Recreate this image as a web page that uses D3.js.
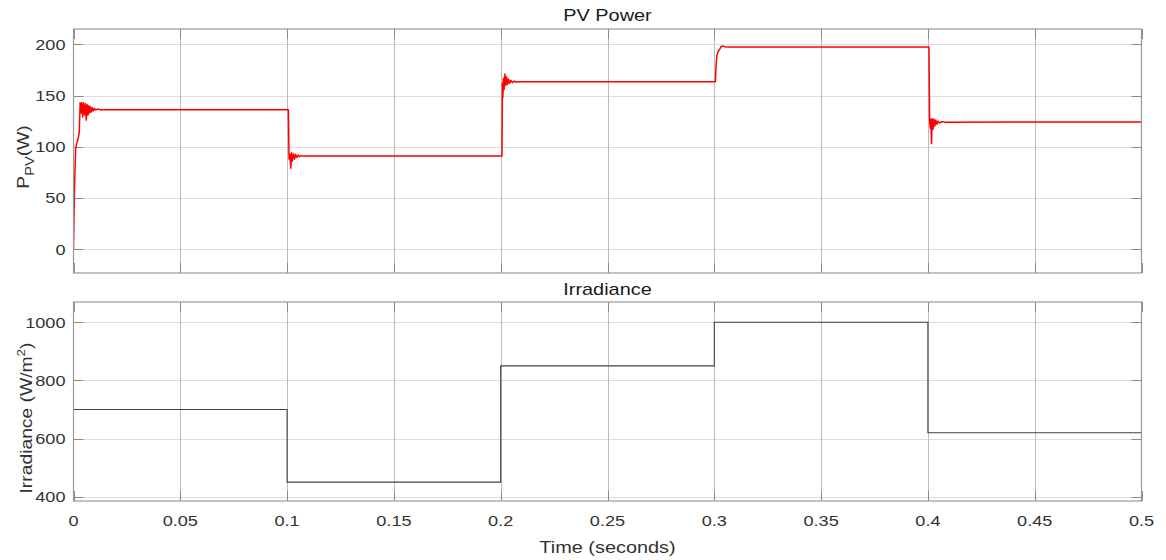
<!DOCTYPE html>
<html>
<head>
<meta charset="utf-8">
<script src="https://cdn.jsdelivr.net/npm/d3@7"></script>
<style>
  html, body { margin: 0; padding: 0; background: #fff; }
  svg { display: block; font-family: "Liberation Sans", Arial, sans-serif; }
</style>
</head>
<body>
<svg id="chart" width="1166" height="560"></svg>
<script>
// PV output power (W) sampled around each irradiance step
const pvTime = [
  0, 0.0004, 0.0010, 0.0015, 0.0022, 0.0027, 0.0031, 0.0036, 0.0039, 0.0043,
  0.0047, 0.0052, 0.0056, 0.0060, 0.0064, 0.0068, 0.0072, 0.0076, 0.0080, 0.0084,
  0.0088, 0.0093, 0.0098, 0.0104, 0.0112, 0.0125, 0.1006,
  0.1009, 0.1013, 0.1017, 0.1021, 0.1025, 0.1030, 0.1035, 0.1040, 0.1046,
  0.1052, 0.1058, 0.1066, 0.1078, 0.1090, 0.2006,
  0.2008, 0.2010, 0.2013, 0.2016, 0.2020, 0.2024, 0.2028, 0.2032, 0.2037,
  0.2042, 0.2048, 0.2055, 0.2063, 0.2075, 0.2090, 0.3005,
  0.3008, 0.3012, 0.3018, 0.3025, 0.3032, 0.3040, 0.3050, 0.3065, 0.4005,
  0.4008, 0.4011, 0.4014, 0.4017, 0.4020, 0.4024, 0.4028, 0.4032, 0.4037,
  0.4042, 0.4048, 0.4055, 0.4065, 0.4080, 0.5
];
const pvPower = [
  0, 55, 98, 103, 108, 114, 143, 133, 143, 129,
  143, 131, 142, 126, 141, 131, 140, 133, 139, 134,
  138, 135, 137.5, 135.8, 136.8, 136.2, 136.2,
  88, 93, 79, 94, 86, 93, 88, 92.5, 89.5,
  91.8, 90.2, 91.3, 90.7, 91, 91,
  162, 148, 167, 156, 171, 160, 168, 161, 166,
  162, 164.8, 162.6, 164, 163.2, 163.5, 163.5,
  178, 189, 193, 195, 198, 198.3, 197.6, 197.4, 197.4,
  125, 118, 127, 103, 127, 117, 127, 120, 126,
  122, 125, 123.2, 124.6, 124, 124.2
];

// Irradiance profile (W/m^2), held constant after each change time
const irrTime = [0, 0.1, 0.2, 0.3, 0.4, 0.5];
const irrValue = [700, 450, 850, 1000, 620, 620];

// Tick values
const timeTicks = [0, 0.05, 0.1, 0.15, 0.2, 0.25, 0.3, 0.35, 0.4, 0.45, 0.5];
const timeTickLabels = ["0", "0.05", "0.1", "0.15", "0.2", "0.25", "0.3", "0.35", "0.4", "0.45", "0.5"];
const powerTicks = [0, 50, 100, 150, 200];
const irrTicks = [400, 600, 800, 1000];

const svg = d3.select("#chart");
const left = 73.5, right = 1141.5;
const topPanel = { y0: 29, y1: 273 };
const botPanel = { y0: 302, y1: 501 };

const x = d3.scaleLinear().domain([0, 0.5]).range([left, right]);
const yP = d3.scaleLinear().domain([-23.4, 215]).range([topPanel.y1, topPanel.y0]);
const yI = d3.scaleLinear().domain([385.2, 1069.8]).range([botPanel.y1, botPanel.y0]);

const boxColor = "#9a9a9a";
const hGrid = "#dcdcdc";
const vGrid = "#bcbcbc";
const tickColor = "#8a8a8a";
const labelColor = "#333333";
const tickLen = 10;
const wide = 1.17; // glyphs are drawn a little wider than the base face

// text placed at (px, py), optionally rotated, widened along its own baseline
function label(px, py, str, size, anchor, rot, fill) {
  return svg.append("text")
    .attr("transform", `translate(${px},${py})${rot ? ` rotate(${rot})` : ""} scale(${wide},1)`)
    .attr("text-anchor", anchor)
    .attr("font-size", size)
    .attr("fill", fill || labelColor)
    .text(str);
}

function panel(p, y, yTicks) {
  const g = svg.append("g");
  // horizontal grid
  g.selectAll(".hg").data(yTicks).join("line")
    .attr("x1", left).attr("x2", right)
    .attr("y1", d => Math.round(y(d)) + 0.5).attr("y2", d => Math.round(y(d)) + 0.5)
    .attr("stroke", hGrid).attr("stroke-width", 1);
  // vertical grid
  g.selectAll(".vg").data(timeTicks.slice(1, -1)).join("line")
    .attr("x1", d => Math.round(x(d)) + 0.5).attr("x2", d => Math.round(x(d)) + 0.5)
    .attr("y1", p.y0).attr("y2", p.y1)
    .attr("stroke", vGrid).attr("stroke-width", 1);
  // inward tick marks on all four sides
  g.selectAll(".tl").data(yTicks).join("line")
    .attr("x1", left).attr("x2", left + tickLen)
    .attr("y1", d => Math.round(y(d)) + 0.5).attr("y2", d => Math.round(y(d)) + 0.5)
    .attr("stroke", tickColor);
  g.selectAll(".tr").data(yTicks).join("line")
    .attr("x1", right - tickLen).attr("x2", right)
    .attr("y1", d => Math.round(y(d)) + 0.5).attr("y2", d => Math.round(y(d)) + 0.5)
    .attr("stroke", tickColor);
  g.selectAll(".tb").data(timeTicks).join("line")
    .attr("x1", d => Math.round(x(d)) + 0.5).attr("x2", d => Math.round(x(d)) + 0.5)
    .attr("y1", p.y1 - tickLen).attr("y2", p.y1)
    .attr("stroke", tickColor);
  g.selectAll(".tt").data(timeTicks).join("line")
    .attr("x1", d => Math.round(x(d)) + 0.5).attr("x2", d => Math.round(x(d)) + 0.5)
    .attr("y1", p.y0).attr("y2", p.y0 + tickLen)
    .attr("stroke", tickColor);
  // y tick labels
  yTicks.forEach(d => label(left - 8, y(d) + 5.5, String(d), 15.5, "end"));
  return g;
}

function frame(p) {
  svg.append("rect")
    .attr("x", left).attr("y", p.y0)
    .attr("width", right - left).attr("height", p.y1 - p.y0)
    .attr("fill", "none").attr("stroke", boxColor).attr("stroke-width", 1.2);
}

// ---- PV power panel ----
panel(topPanel, yP, powerTicks);
svg.append("clipPath").attr("id", "clipTop").append("rect")
  .attr("x", left).attr("y", topPanel.y0).attr("width", right - left).attr("height", topPanel.y1 - topPanel.y0);
svg.append("path")
  .datum(pvTime.map((t, i) => [t, pvPower[i]]))
  .attr("clip-path", "url(#clipTop)")
  .attr("fill", "none").attr("stroke", "#ff0000").attr("stroke-width", 1.5)
  .attr("stroke-linejoin", "round")
  .attr("d", d3.line().x(d => x(d[0])).y(d => yP(d[1])));
frame(topPanel);

label((left + right) / 2, 20.7, "PV Power", 17, "middle", 0, "#1a1a1a");

const yLabTop = label(29, 157, "", 16.5, "middle", -90);
yLabTop.append("tspan").text("P");
yLabTop.append("tspan").attr("font-size", 12.5).attr("dy", 5).text("PV");
yLabTop.append("tspan").attr("dy", -5).text("(W)");

// ---- Irradiance panel ----
panel(botPanel, yI, irrTicks);
svg.append("path")
  .datum(irrTime.map((t, i) => [t, irrValue[i]]))
  .attr("fill", "none").attr("stroke", "#404040").attr("stroke-width", 1.1)
  .attr("d", d3.line().curve(d3.curveStepAfter).x(d => x(d[0])).y(d => yI(d[1])));
frame(botPanel);

label((left + right) / 2, 294.5, "Irradiance", 17, "middle", 0, "#1a1a1a");

const yLabBot = label(32, 418, "", 16.5, "middle", -90);
yLabBot.append("tspan").text("Irradiance (W/m");
yLabBot.append("tspan").attr("font-size", 11.5).attr("dy", -7).text("2");
yLabBot.append("tspan").attr("dy", 7).text(")");

// x tick labels under the bottom panel
timeTicks.forEach((d, i) => label(x(d), 525.7, timeTickLabels[i], 15.5, "middle"));

label((left + right) / 2, 553, "Time (seconds)", 17, "middle");
</script>
</body>
</html>
